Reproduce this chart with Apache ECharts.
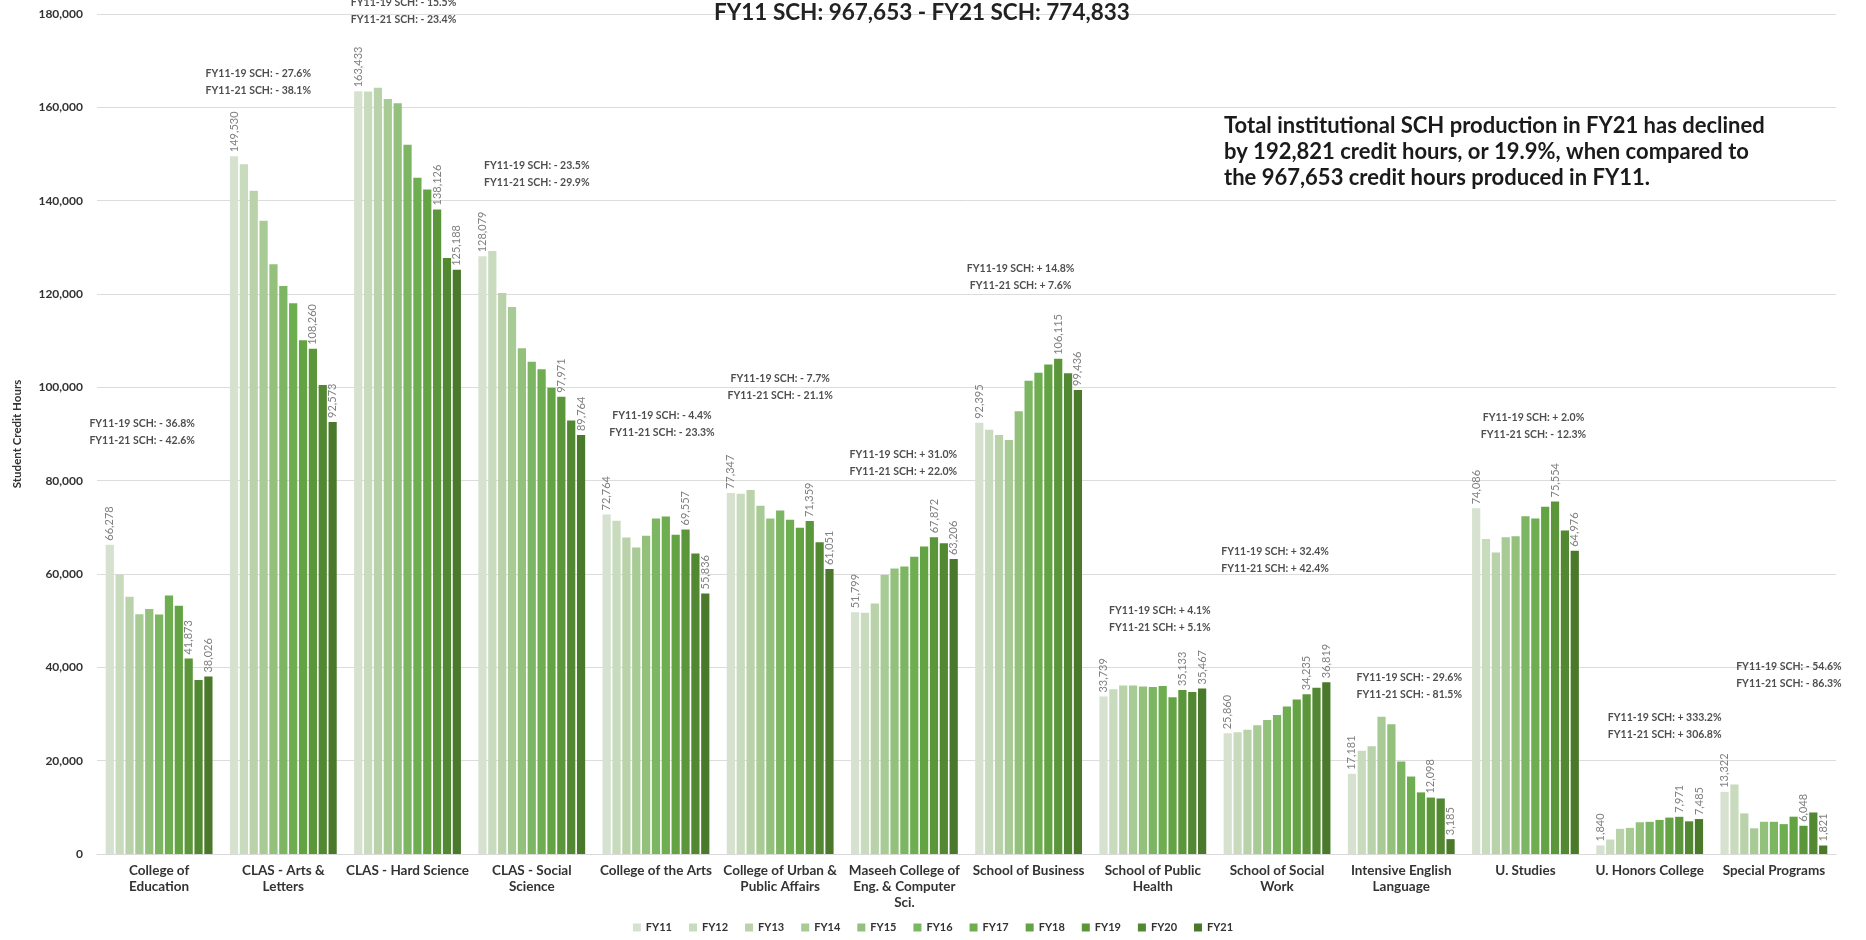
<!DOCTYPE html>
<html>
<head>
<meta charset="utf-8">
<title>Student Credit Hours by College, FY11 - FY21</title>
<script src="https://cdn.jsdelivr.net/npm/echarts/dist/echarts.min.js"></script>
<style>
    html, body { margin: 0; padding: 0; background: #fff; }
    #sch_chart { width: 1866px; height: 940px; }
</style>
</head>
<body>
<div id="sch_chart"></div>
<script>
'use strict'

var categories = ['College of\nEducation', 'CLAS - Arts &\nLetters', 'CLAS - Hard Science', 'CLAS - Social\nScience',
    'College of the Arts', 'College of Urban &\nPublic Affairs', 'Maseeh College of\nEng. & Computer\nSci.',
    'School of Business', 'School of Public\nHealth', 'School of Social\nWork', 'Intensive English\nLanguage',
    'U. Studies', 'U. Honors College', 'Special Programs'];

var years = ['FY11', 'FY12', 'FY13', 'FY14', 'FY15', 'FY16', 'FY17', 'FY18', 'FY19', 'FY20', 'FY21'];

var fy11 = [66278, 149530, 163433, 128079, 72764, 77347, 51799, 92395, 33739, 25860, 17181, 74086, 1840, 13322];
var fy12 = [59900, 147800, 163400, 129200, 71400, 77200, 51700, 90900, 35300, 26100, 22100, 67500, 3100, 14900];
var fy13 = [55100, 142100, 164200, 120200, 67800, 78000, 53700, 89800, 36100, 26600, 23100, 64600, 5400, 8700];
var fy14 = [51400, 135700, 161800, 117200, 65700, 74600, 59800, 88700, 36100, 27600, 29400, 67900, 5600, 5500];
var fy15 = [52500, 126400, 160900, 108400, 68200, 71900, 61200, 94900, 35900, 28700, 27800, 68100, 6800, 6900];
var fy16 = [51300, 121700, 152000, 105500, 71900, 73600, 61600, 101400, 35800, 29800, 19800, 72400, 6900, 6900];
var fy17 = [55400, 118000, 144900, 103900, 72300, 71600, 63700, 103100, 36000, 31600, 16600, 71900, 7300, 6400];
var fy18 = [53200, 110100, 142400, 99900, 68400, 69900, 65900, 104900, 33600, 33100, 13200, 74400, 7800, 8000];
var fy19 = [41873, 108260, 138126, 97971, 69557, 71359, 67872, 106115, 35133, 34235, 12098, 75554, 7971, 6048];
var fy20 = [37300, 100500, 127700, 92900, 64400, 66800, 66600, 103000, 34700, 35600, 11900, 69300, 7000, 8900];
var fy21 = [38026, 92573, 125188, 89764, 55836, 61051, 63206, 99436, 35467, 36819, 3185, 64976, 7485, 1821];

// change notes above each college
var change19 = ['- 36.8%', '- 27.6%', '- 15.5%', '- 23.5%', '- 4.4%', '- 7.7%', '+ 31.0%',
    '+ 14.8%', '+ 4.1%', '+ 32.4%', '- 29.6%', '+ 2.0%', '+ 333.2%', '- 54.6%'];
var change21 = ['- 42.6%', '- 38.1%', '- 23.4%', '- 29.9%', '- 23.3%', '- 21.1%', '+ 22.0%',
    '+ 7.6%', '+ 5.1%', '+ 42.4%', '- 81.5%', '- 12.3%', '+ 306.8%', '- 86.3%'];
// value (SCH) where each note sits
var noteAt = [90500, 165300, 180600, 145700, 92100, 100000, 83700, 123700, 50300, 63000, 36000, 91600, 27300, 38300];

var yTicks = [0, 20000, 40000, 60000, 80000, 100000, 120000, 140000, 160000, 180000];

var yearValues = [fy11, fy12, fy13, fy14, fy15, fy16, fy17, fy18, fy19, fy20, fy21];
var colors = ['#d6e2cf', '#c8dbbd', '#b9d2aa', '#a8ca95', '#93c17c', '#7db663',
    '#6eae50', '#64a343', '#5b963a', '#538832', '#4a792b'];
var noteDx = [-17, -25, -4, 5, 6, 0, -1, -8, 7, -2, 8, 8, 15, 15];

var font = 'Lato, "Liberation Sans", sans-serif';
var fmt = function (v) { return Number(v).toLocaleString('en-US'); };
var sum = function (arr) { return arr.reduce(function (a, b) { return a + b; }, 0); };

var chart = echarts.init(document.getElementById('sch_chart'));

var series = years.map(function (y, i) {
    return {
        name: y,
        type: 'bar',
        data: yearValues[i],
        barCategoryGap: '14%',
        barGap: '20%',
        itemStyle: { color: colors[i] },
        label: {
            show: i === 0 || i === 8 || i === 10,
            position: 'top',
            rotate: 90,
            align: 'left',
            verticalAlign: 'middle',
            distance: 4,
            color: '#808080',
            fontFamily: font,
            fontSize: 11,
            formatter: function (p) { return fmt(p.value); }
        }
    };
});

series.push({
    name: 'notes',
    type: 'scatter',
    silent: true,
    clip: false,
    symbolSize: 1,
    itemStyle: { color: 'rgba(0,0,0,0)' },
    data: categories.map(function (c, i) {
        return { value: [i, noteAt[i]], label: { offset: [noteDx[i], 0] } };
    }),
    label: {
        show: true,
        position: 'inside',
        color: '#222',
        fontFamily: font,
        fontWeight: 'bold',
        fontSize: 10.5,
        lineHeight: 17,
        formatter: function (p) {
            return 'FY11-19 SCH: ' + change19[p.dataIndex] + '\nFY11-21 SCH: ' + change21[p.dataIndex];
        }
    }
});

chart.setOption({
    animation: false,
    title: [{
        text: 'FY11 SCH: ' + fmt(sum(fy11)) + ' - FY21 SCH: ' + fmt(sum(fy21)),
        left: 714,
        top: 1,
        padding: 0,
        textStyle: { fontFamily: font, fontSize: 22.5, fontWeight: 'bold', color: '#222' }
    }, {
        text: 'Total institutional SCH production in FY21 has declined\nby 192,821 credit hours, or 19.9%, when compared to\nthe 967,653 credit hours produced in FY11.',
        left: 1224,
        top: 113,
        padding: 0,
        textStyle: { fontFamily: font, fontSize: 22, fontWeight: 'bold', color: '#1a1a1a', lineHeight: 26 }
    }],
    legend: {
        data: years,
        bottom: 2,
        left: 'center',
        icon: 'rect',
        itemWidth: 8,
        itemHeight: 8,
        itemGap: 17,
        textStyle: { fontFamily: font, fontSize: 11, fontWeight: 'bold', color: '#333' }
    },
    grid: { left: 97, right: 30, top: 14, bottom: 86 },
    xAxis: {
        type: 'category',
        data: categories,
        axisTick: { show: false },
        axisLine: { lineStyle: { color: '#d9d9d9' } },
        axisLabel: {
            interval: 0,
            margin: 9,
            color: '#333',
            fontFamily: font,
            fontSize: 13.5,
            fontWeight: 'bold',
            lineHeight: 16
        }
    },
    yAxis: {
        type: 'value',
        min: yTicks[0],
        max: yTicks[yTicks.length - 1],
        interval: yTicks[1] - yTicks[0],
        name: 'Student Credit Hours',
        nameLocation: 'middle',
        nameGap: 74,
        nameTextStyle: { fontFamily: font, fontSize: 11.5, fontWeight: 'bold', color: '#333' },
        axisLabel: {
            margin: 14,
            color: '#333',
            fontFamily: font,
            fontSize: 12,
            fontWeight: 'bold',
            formatter: fmt
        },
        splitLine: { lineStyle: { color: '#dcdcdc' } }
    },
    series: series
});
</script>
</body>
</html>
